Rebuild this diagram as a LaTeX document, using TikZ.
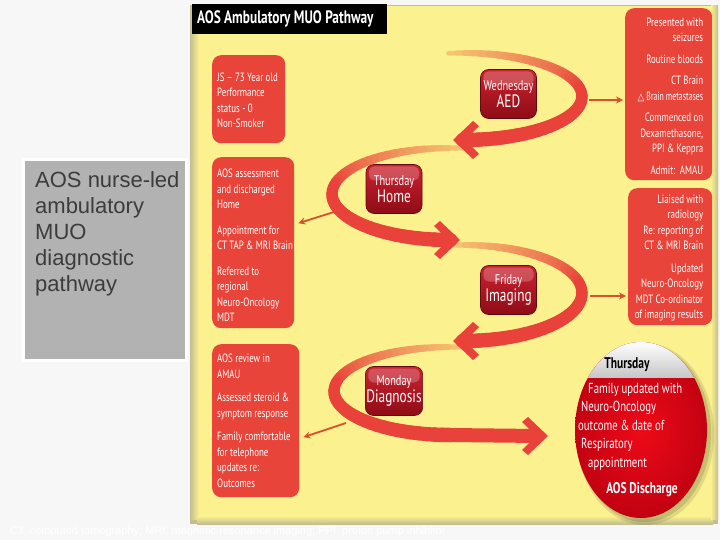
\documentclass[tikz,border=0pt]{standalone}
\usepackage{fontspec}
\usepackage{graphicx}
\usetikzlibrary{shapes.geometric,arrows.meta,calc}
\newfontfamily\cond[FakeStretch=0.74]{PT Sans}
\newfontfamily\arial{Liberation Sans}
\newfontfamily\dejavu{DejaVu Sans}
\hyphenpenalty=10000
\exhyphenpenalty=10000
\definecolor{bggray}{HTML}{F7F7F7}
\definecolor{panel}{HTML}{FBF18E}
\definecolor{panelshadow}{HTML}{C2BE8E}
\definecolor{boxred}{HTML}{E9443A}
\definecolor{arrowred}{HTML}{E8423A}
\definecolor{arrowpale}{HTML}{F6CC74}
\definecolor{linkred}{HTML}{D9502E}
\definecolor{badgetop}{HTML}{CC2330}
\definecolor{badgebot}{HTML}{8E0C16}
\definecolor{notegray}{HTML}{B2B2B2}
\definecolor{notetext}{HTML}{3C3C3C}
\definecolor{discred}{HTML}{EE0A18}
\definecolor{discdark}{HTML}{BA0010}
% crescent arrow body: cx, cy, rx, ry, start angle, end angle, segments-1
\newcommand\mycrescent[7]{%
  \foreach \cri in {0,...,#7}{%
    \pgfmathsetmacro\crs{\cri/(#7+1)}%
    \pgfmathsetmacro\cre{(\cri+1)/(#7+1)}%
    \pgfmathsetmacro\cra{#5+(#6-#5)*\crs}%
    \pgfmathsetmacro\crb{#5+(#6-#5)*\cre}%
    \pgfmathsetmacro\crw{3+11.5*sqrt(\cre)}%
    \pgfmathtruncatemacro\crp{min(100,\cre*210)}%
    \draw[line width=\crw pt, line cap=round, color=arrowred!\crp!arrowpale]
      ({#1+#3*cos(\cra)},{#2-#4*sin(\cra)}) -- ({#1+#3*cos(\crb)},{#2-#4*sin(\crb)});
  }}
\tikzset{
  redbox/.style={fill=boxred, rounded corners=9pt, inner sep=0, anchor=north west},
  boxtext/.style={text=white, font=\cond\fontsize{12}{15.5}\selectfont, inner sep=0},
  badge/.style={rounded corners=8pt, minimum width=56pt, minimum height=49pt, inner sep=1pt,
    align=center, text=white, top color=badgetop, bottom color=badgebot,
    draw=badgebot!70!black, line width=0.6pt,
    path picture={\fill[white,opacity=0.22,rounded corners=5pt]
      ([xshift=3pt,yshift=-2pt]path picture bounding box.north west) rectangle
      ([xshift=-3pt,yshift=-16pt]path picture bounding box.north east);}},
  link/.style={draw=linkred, line width=1.8pt, -{Stealth[length=7pt,width=7pt]}},
  ahead/.pic={\fill[arrowred] (10,0) -- (-10,-19) -- (-16,-14) -- (-2,0) -- (-16,14) -- (-10,19) -- cycle;}
}
\newcommand\daytxt[2]{{\fontsize{14}{15}\selectfont\cond #1}\\{\fontsize{18}{18}\selectfont\cond #2}}
\begin{document}
\begin{tikzpicture}[x=1pt,y=-1pt]
\useasboundingbox (0,0) rectangle (720,540);
% background and panel
\fill[bggray] (0,0) rectangle (720,540);
\fill[panelshadow] (190,5) rectangle (718,524);
\fill[panel] (197,6) rectangle (713,519);
\shade[left color=panelshadow, right color=panel] (190,6) rectangle (199,519);
\shade[top color=panel, bottom color=panelshadow] (197,516) rectangle (713,524);
\shade[left color=panel, right color=panelshadow] (711,6) rectangle (718,519);

% title
\node[fill=black, anchor=north west, minimum width=195pt, minimum height=30pt, text width=185pt,
  inner xsep=5pt, align=flush left, text=white, font=\cond\bfseries\fontsize{18}{19}\selectfont]
  (title) at (192,4) {AOS Ambulatory MUO Pathway};

% left note box
\node[fill=notegray, draw=white, line width=3pt, minimum width=163pt, minimum height=200pt,
  anchor=north west, inner sep=0] (note) at (21.5,158.5) {};
\node[anchor=north west, align=left, text=notetext, font=\arial\fontsize{22}{26}\selectfont,
  inner sep=0] (notetxt) at (35,171) {AOS nurse-led\\ambulatory\\MUO\\diagnostic\\pathway};

% left red boxes
\node[redbox, minimum width=73pt, minimum height=88pt] (b1) at (212,55) {};
\node[boxtext, align=flush left, anchor=west] (t1) at ([xshift=5pt,yshift=-1pt]b1.west)
  {JS – 73 Year old\\Performance\\status - 0\\Non-Smoker};
\node[redbox, minimum width=82pt, minimum height=171pt] (b2) at (212,157) {};
\node[boxtext, align=flush left, anchor=west] (t2) at ([xshift=5pt,yshift=-3pt]b2.west)
  {AOS assessment\\and discharged\\Home\\[10pt]Appointment for\\CT TAP \& MRI Brain\\[10pt]Referred to\\regional\\Neuro-Oncology\\MDT};
\node[redbox, minimum width=87pt, minimum height=153pt] (b3) at (212,344) {};
\node[boxtext, align=flush left, anchor=west] (t3) at ([xshift=5pt]b3.west)
  {AOS review in\\AMAU\\[8pt]Assessed steroid \&\\symptom response\\[8pt]Family comfortable\\for telephone\\updates re:\\Outcomes};

% right red boxes
\node[redbox, minimum width=87pt, minimum height=172pt] (b4) at (625,8) {};
\node[boxtext, align=flush right, anchor=east] (t4) at ([xshift=-9pt,yshift=-2pt]b4.east)
  {Presented with\\seizures\\[6pt]Routine bloods\\[6pt]CT Brain\\\scalebox{0.88}[1]{{\dejavu\fontsize{10}{12}\selectfont △} Brain metastases}\\[6pt]Commenced on\\Dexamethasone,\\PPI \& Keppra\\[6pt]Admit:\ \ AMAU};
\node[redbox, minimum width=84pt, minimum height=137pt] (b5) at (628,188) {};
\node[boxtext, align=flush right, anchor=east] (t5) at ([xshift=-9pt,yshift=-1.5pt]b5.east)
  {Liaised with\\radiology\\Re: reporting of\\CT \& MRI Brain\\[7pt]Updated\\Neuro-Oncology\\MDT Co-ordinator\\of imaging results};

% curved arrows (drawn bottom first)
\mycrescent{450}{391}{116}{44}{83}{270}{47}
\draw[line width=14pt, arrowred] (450,435) -- (538,436);
\pic at (538,436) {ahead};
\mycrescent{463}{293}{119}{48}{97}{-90}{47}
\pic[xscale=-1] at (463,341) {ahead};
\mycrescent{450}{194}{118}{46}{83}{270}{47}
\pic at (450,240) {ahead};
\mycrescent{463}{96.5}{119}{43.5}{97}{-90}{47}
\pic[xscale=-1] at (463,140) {ahead};

% small connectors
\coordinate (c1) at (589,100);
\coordinate (c2) at (334,212);
\coordinate (c3) at (590,296);
\coordinate (c4) at (346,423);
\draw[link] (c1) -- ([xshift=-2pt]c1 -| b4.west);
\draw[link] (c2) -- ([xshift=4pt,yshift=19.5pt]b2.east);
\draw[link] (c3) -- ([xshift=-2pt]c3 -| b5.west);
\draw[link] (c4) -- ([xshift=4pt,yshift=-16.5pt]b3.east);

% day badges
\node[badge] (wed) at (508.5,94) {\daytxt{Wednesday}{AED}};
\node[badge] (thu) at (394,189) {\daytxt{Thursday}{Home}};
\node[badge] (fri) at (508.5,290) {\daytxt{Friday}{Imaging}};
\node[badge] (mon) at (394,391) {\daytxt{Monday}{Diagnosis}};

% discharge disc
\fill[black,opacity=0.10] (645,434) ellipse [x radius=69, y radius=91];
\fill[black,opacity=0.12] (644,433) ellipse [x radius=67, y radius=89];
\node[ellipse, minimum width=132pt, minimum height=176pt, inner sep=0, path picture={
  \shade[inner color=discred, outer color=discdark]
    ([xshift=-15pt,yshift=-15pt]path picture bounding box.south west) rectangle
    ([xshift=15pt,yshift=15pt]path picture bounding box.north east);
  \shade[top color=white, bottom color=black!22]
    (path picture bounding box.north west) rectangle ([yshift=-35pt]path picture bounding box.north east);
}] (disc) at (641,430) {};
\node[font=\cond\bfseries\fontsize{15.5}{17}\selectfont, text=black, inner sep=0] (discday) at (627,365) {Thursday};
\node[anchor=north west, align=flush left, text=white, font=\cond\fontsize{14.5}{18.5}\selectfont, inner sep=0]
  (disctxt) at (578,383) {\hspace*{10pt}Family updated with\\\hspace*{3pt}Neuro-Oncology\\outcome \& date of\\\hspace*{3pt}Respiratory\\\hspace*{10pt}appointment};
\node[font=\cond\bfseries\fontsize{15.5}{17}\selectfont, text=white, inner sep=0] (discend) at (642,490) {AOS Discharge};

% footnote
\node[anchor=west, text=white, font=\arial\fontsize{11}{13}\selectfont, inner sep=0] (foot) at (10,532)
  {CT, computed tomography; MRI, magnetic resonance imaging; PPI, proton pump inhibitor};
\end{tikzpicture}
\end{document}
